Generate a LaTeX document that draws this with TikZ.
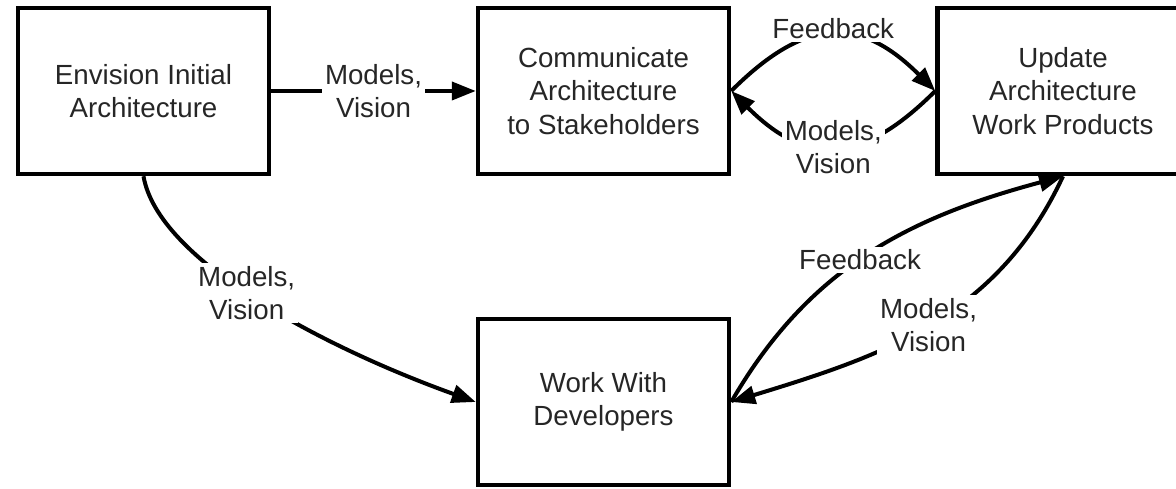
\documentclass[tikz,border=0pt]{standalone}
\usepackage{fontspec}
\setmainfont{Liberation Sans}
\usetikzlibrary{arrows.meta}
\begin{document}
\begin{tikzpicture}[x=1pt,y=1pt,
  txt/.style={text=black!85, font=\fontsize{27.7}{33.5}\selectfont},
  box/.style={txt, draw=black, line width=4.5pt, minimum width=251pt, minimum height=166pt, align=center, inner sep=0pt},
  conn/.style={line width=4pt, -{Triangle[length=24pt,width=18pt]}},
  lbl/.style={txt, fill=white, align=center, inner sep=3pt}
]
\useasboundingbox (0,0) rectangle (1176,489);
\clip (0,0) rectangle (1176,489);
\fill[white] (0,0) rectangle (1176,489);

\node[box] (b1) at (143.5,398) {Envision Initial\\Architecture};
\node[box] (b2) at (603.5,398) {Communicate\\Architecture\\to Stakeholders};
\node[box] (b3) at (1063,398) {Update\\Architecture\\Work Products};
\node[box] (b4) at (603.5,87) {Work With\\Developers};

\draw[conn] (b1.east) -- node[lbl, pos=0.5] {Models,\\Vision} (b2.west);

\draw[conn] (b2.east) to[out=45, in=135, looseness=1.33]
  node[lbl, pos=0.5, yshift=6pt] {Feedback} (b3.west);
\draw[conn] (b3.west) to[out=-135, in=-45, looseness=1.33]
  node[lbl, pos=0.5] {Models,\\Vision} (b2.east);

\draw[conn] (b1.south) .. controls +(14.5,-84) and +(-153,55) ..
  node[lbl, pos=0.47] {Models,\\Vision} (b4.west);

\draw[conn] (b4.east) to[out=60, in=195]
  node[lbl, pos=0.47] {Feedback} (b3.south);
\draw[conn] (b3.south) to[out=245, in=17]
  node[lbl, pos=0.5] {Models,\\Vision} (b4.east);
\end{tikzpicture}
\end{document}
